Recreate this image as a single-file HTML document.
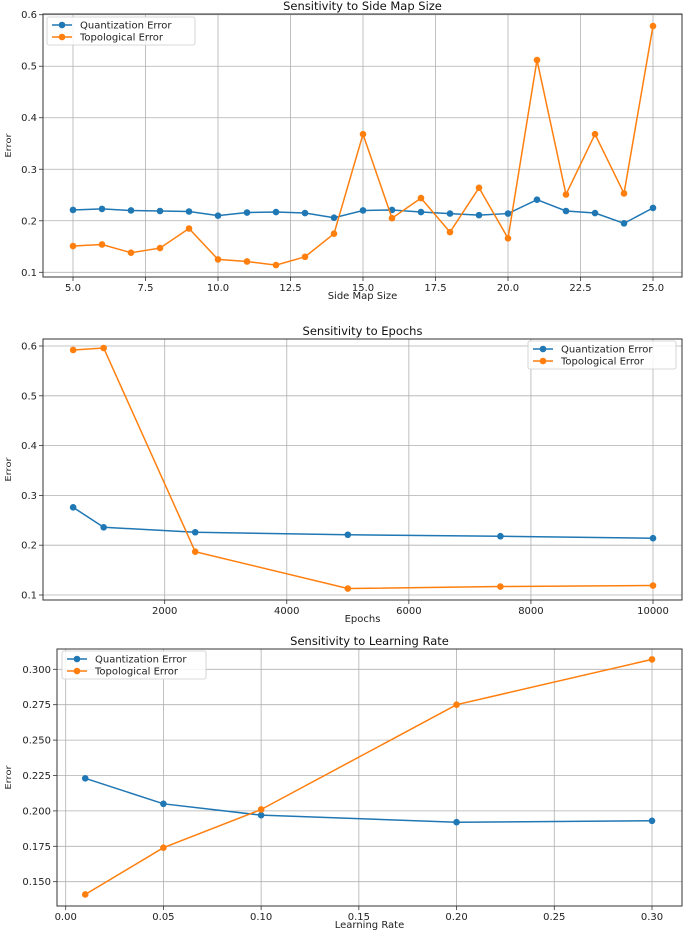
<!DOCTYPE html>
<html><head><meta charset="utf-8"><style>
html,body{margin:0;padding:0;background:#fff}
svg{display:block;font-family:"DejaVu Sans","Liberation Sans",sans-serif}
</style></head><body>
<svg id="s" width="685" height="932"></svg>
<script>
// Chart 1 data
const sideSizes=[5,6,7,8,9,10,11,12,13,14,15,16,17,18,19,20,21,22,23,24,25];
const sideQE=[.221,.223,.22,.219,.218,.21,.216,.217,.215,.206,.22,.221,.217,.214,.211,.214,.241,.219,.215,.195,.225];
const sideTE=[.151,.154,.138,.147,.185,.125,.121,.114,.13,.175,.368,.205,.244,.178,.264,.166,.512,.251,.368,.253,.578];
const sideXTicks=[5,7.5,10,12.5,15,17.5,20,22.5,25];
const sideYTicks=[.1,.2,.3,.4,.5,.6];
// Chart 2 data
const epochs=[500,1000,2500,5000,7500,10000];
const epochQE=[.276,.236,.226,.221,.218,.214];
const epochTE=[.592,.596,.187,.113,.117,.119];
const epochXTicks=[2000,4000,6000,8000,10000];
const epochYTicks=[.1,.2,.3,.4,.5,.6];
// Chart 3 data
const rates=[.01,.05,.1,.2,.3];
const rateQE=[.223,.205,.197,.192,.193];
const rateTE=[.141,.174,.201,.275,.307];
const rateXTicks=[0,.05,.1,.15,.2,.25,.3];
const rateYTicks=[.15,.175,.2,.225,.25,.275,.3];

const NS="http://www.w3.org/2000/svg";
const svg=document.getElementById('s');
function mk(tag,at,parent,txt){const e=document.createElementNS(NS,tag);for(const k in at)e.setAttribute(k,at[k]);if(txt!==undefined)e.textContent=txt;(parent||svg).appendChild(e);return e;}
function chart(o){
  const g=mk('g',{});
  
  
  const sx=v=>o.px0+(v-o.x0)*(o.px1-o.px0)/(o.x1-o.x0);
  const sy=v=>o.py0+(v-o.y0)*(o.py1-o.py0)/(o.y1-o.y0);
  const F=o.frame;
  o.xt.forEach(t=>{const x=sx(t);
    const l=mk('line',{x1:x,x2:x,y1:F.t,y2:F.b,stroke:'#b0b0b0','stroke-width':0.8},g);
    mk('line',{x1:x,x2:x,y1:F.b,y2:F.b+4,stroke:'#333','stroke-width':0.8},g);
    const tx=mk('text',{x:x,y:F.b+14,'font-size':10,'text-anchor':'middle',fill:'#222'},g,o.xf(t));});
  o.yt.forEach(t=>{const y=sy(t);
    const l=mk('line',{x1:F.l,x2:F.r,y1:y,y2:y,stroke:'#b0b0b0','stroke-width':0.8},g);
    mk('line',{x1:F.l-4,x2:F.l,y1:y,y2:y,stroke:'#333','stroke-width':0.8},g);
    const tx=mk('text',{x:F.l-6,y:y+3.5,'font-size':10,'text-anchor':'end',fill:'#222'},g,o.yf(t));});
  const fr=mk('rect',{x:F.l,y:F.t,width:F.r-F.l,height:F.b-F.t,fill:'none',stroke:'#333','stroke-width':1},g);
  [[o.qe,'#1f77b4','quantization-error-series'],[o.te,'#ff7f0e','topological-error-series']].forEach(([ys,c,n])=>{
    const sg=mk('g',{},g);
    mk('polyline',{points:o.xs.map((x,i)=>sx(x)+','+sy(ys[i])).join(' '),fill:'none',stroke:c,'stroke-width':1.5},sg);
    o.xs.forEach((x,i)=>{const p=mk('circle',{cx:sx(x),cy:sy(ys[i]),r:3.3,fill:c},sg);});
  });
  const t=mk('text',{x:(F.l+F.r)/2,y:F.t-4,'font-size':11.5,'text-anchor':'middle',fill:'#111'},g,o.title);
  const xl=mk('text',{x:(F.l+F.r)/2,y:F.b+22,'font-size':10,'text-anchor':'middle',fill:'#222'},g,o.xlabel);
  const yc=(F.t+F.b)/2;
  const yl=mk('text',{x:0,y:0,'font-size':10,'text-anchor':'middle',fill:'#222',transform:`translate(11,${yc}) rotate(-90) scale(1,0.75)`},g,'Error');
  const L=o.leg;
  const lg=mk('g',{},g);
  mk('rect',{x:L.x,y:L.y,width:L.w,height:28,rx:2,fill:'#fff','fill-opacity':0.85,stroke:'#ccc','stroke-width':0.8},lg);
  [['Quantization Error','#1f77b4'],['Topological Error','#ff7f0e']].forEach(([n,c],i)=>{
    const yy=L.y+8+i*12;
    const e=mk('g',{},lg);
    mk('line',{x1:L.x+5,x2:L.x+25,y1:yy,y2:yy,stroke:c,'stroke-width':1.5},e);
    mk('circle',{cx:L.x+15,cy:yy,r:3.3,fill:c},e);
    mk('text',{x:L.x+33,y:yy+3.5,'font-size':10,fill:'#222'},e,n);
  });
}
chart({name:'side-map-size-chart',title:'Sensitivity to Side Map Size',xlabel:'Side Map Size',
  xs:sideSizes,qe:sideQE,te:sideTE,xt:sideXTicks,yt:sideYTicks,
  x0:5,x1:25,px0:73,px1:653,y0:.1,y1:.6,py0:272.3,py1:14.7,
  frame:{l:43,r:682,t:14,b:277},xf:v=>v.toFixed(1),yf:v=>v.toFixed(1),leg:{x:47,y:17,w:148}});
chart({name:'epochs-chart',title:'Sensitivity to Epochs',xlabel:'Epochs',
  xs:epochs,qe:epochQE,te:epochTE,xt:epochXTicks,yt:epochYTicks,
  x0:2000,x1:10000,px0:164.7,px1:653,y0:.1,y1:.6,py0:595,py1:346,
  frame:{l:43,r:682,t:339,b:600},xf:v=>String(v),yf:v=>v.toFixed(1),leg:{x:528,y:341,w:148}});
chart({name:'learning-rate-chart',title:'Sensitivity to Learning Rate',xlabel:'Learning Rate',
  xs:rates,qe:rateQE,te:rateTE,xt:rateXTicks,yt:rateYTicks,
  x0:0,x1:.3,px0:65.7,px1:652,y0:.15,y1:.3,py0:881.7,py1:669.3,
  frame:{l:57,r:682,t:649,b:906},xf:v=>v.toFixed(2),yf:v=>v.toFixed(3),leg:{x:62,y:651,w:144}});
</script>
</body></html>
